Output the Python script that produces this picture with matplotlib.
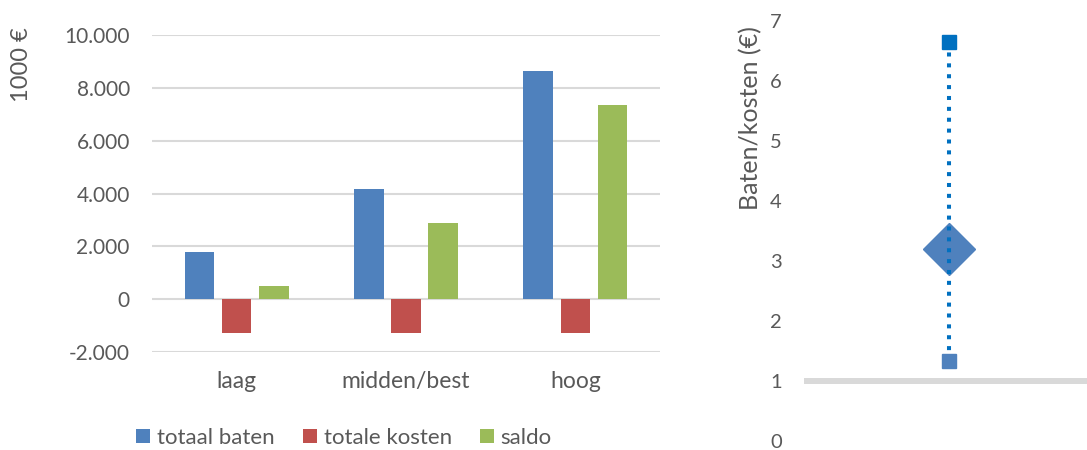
import matplotlib.pyplot as plt
import numpy as np

plt.rcParams['font.family'] = ['Lato', 'DejaVu Sans']

# bar chart data (x 1000 euro)
categories = ['laag', 'midden/best', 'hoog']
series_names = ['totaal baten', 'totale kosten', 'saldo']
totaal_baten = [1780, 4170, 8640]
totale_kosten = [-1290, -1290, -1290]
saldo = [490, 2880, 7350]

# benefit/cost ratio
ratio_low = 1.34
ratio_mid = 3.2
ratio_high = 6.65

colors = ['#4F81BD', '#C0504D', '#9BBB59']
txt = '#595959'
grid = '#D9D9D9'

fig = plt.figure(figsize=(10.87, 4.5), dpi=100)

# left: bar chart
ax = fig.add_axes([152/1087, 98/450, 508/1087, 317/450])
x = np.arange(len(categories))
w = 0.175
off = 0.22
for i, (vals, name) in enumerate(zip([totaal_baten, totale_kosten, saldo], series_names)):
    ax.bar(x + (i - 1) * off, vals, w, color=colors[i], label=name, zorder=3)
ax.set_xlim(-0.5, 2.5)
ax.set_ylim(-2000, 10000)
ax.set_yticks(range(-2000, 10001, 2000))
ax.set_yticklabels([f'{v:,}'.replace(',', '.') for v in range(-2000, 10001, 2000)])
ax.set_xticks(x)
ax.set_xticklabels(categories)
ax.grid(axis='y', color=grid, linewidth=1.5, zorder=0)
for s in ax.spines.values():
    s.set_visible(False)
ax.tick_params(axis='y', length=0, pad=16, labelsize=15, labelcolor=txt)
ax.tick_params(axis='x', length=0, pad=14, labelsize=16.5, labelcolor=txt)
ax.set_ylabel('1000 €', fontsize=17, color=txt)
ax.yaxis.set_label_coords(-0.236, 0.905)
ax.legend(loc='center', bbox_to_anchor=(0.378, -0.27), ncol=3, frameon=False,
          fontsize=16, labelcolor=txt, handlelength=0.63, handleheight=0.63,
          handletextpad=0.31, columnspacing=1.25)

# right: ratio range with central estimate
ax2 = fig.add_axes([804/1087, 9/450, 290/1087, 420/450])
ax2.set_xlim(-1, 1)
ax2.set_ylim(0, 7)
ax2.axhline(1, color=grid, linewidth=4.3, zorder=1)
ax2.plot([0, 0], [ratio_low, ratio_high], color='#0070C0', linewidth=2.9,
         linestyle=(0, (1, 1.7)), dash_capstyle='butt', zorder=3)
ax2.plot([0], [ratio_mid], marker='D', markersize=26, color='#4F81BD', zorder=2)
ax2.plot([0], [ratio_high], marker='s', markersize=10.5, color='#0070C0', zorder=4)
ax2.plot([0], [ratio_low], marker='s', markersize=10.5, color='#4F81BD', zorder=4)
ax2.set_yticks(range(0, 8))
ax2.set_xticks([])
for s in ax2.spines.values():
    s.set_visible(False)
ax2.tick_params(axis='y', length=0, pad=16, labelsize=14.5, labelcolor=txt)
ax2.set_ylabel('Baten/kosten (€)', fontsize=18, color=txt)
ax2.yaxis.set_label_coords(-0.145, 0.769)

fig.savefig('out.png', dpi=100)
